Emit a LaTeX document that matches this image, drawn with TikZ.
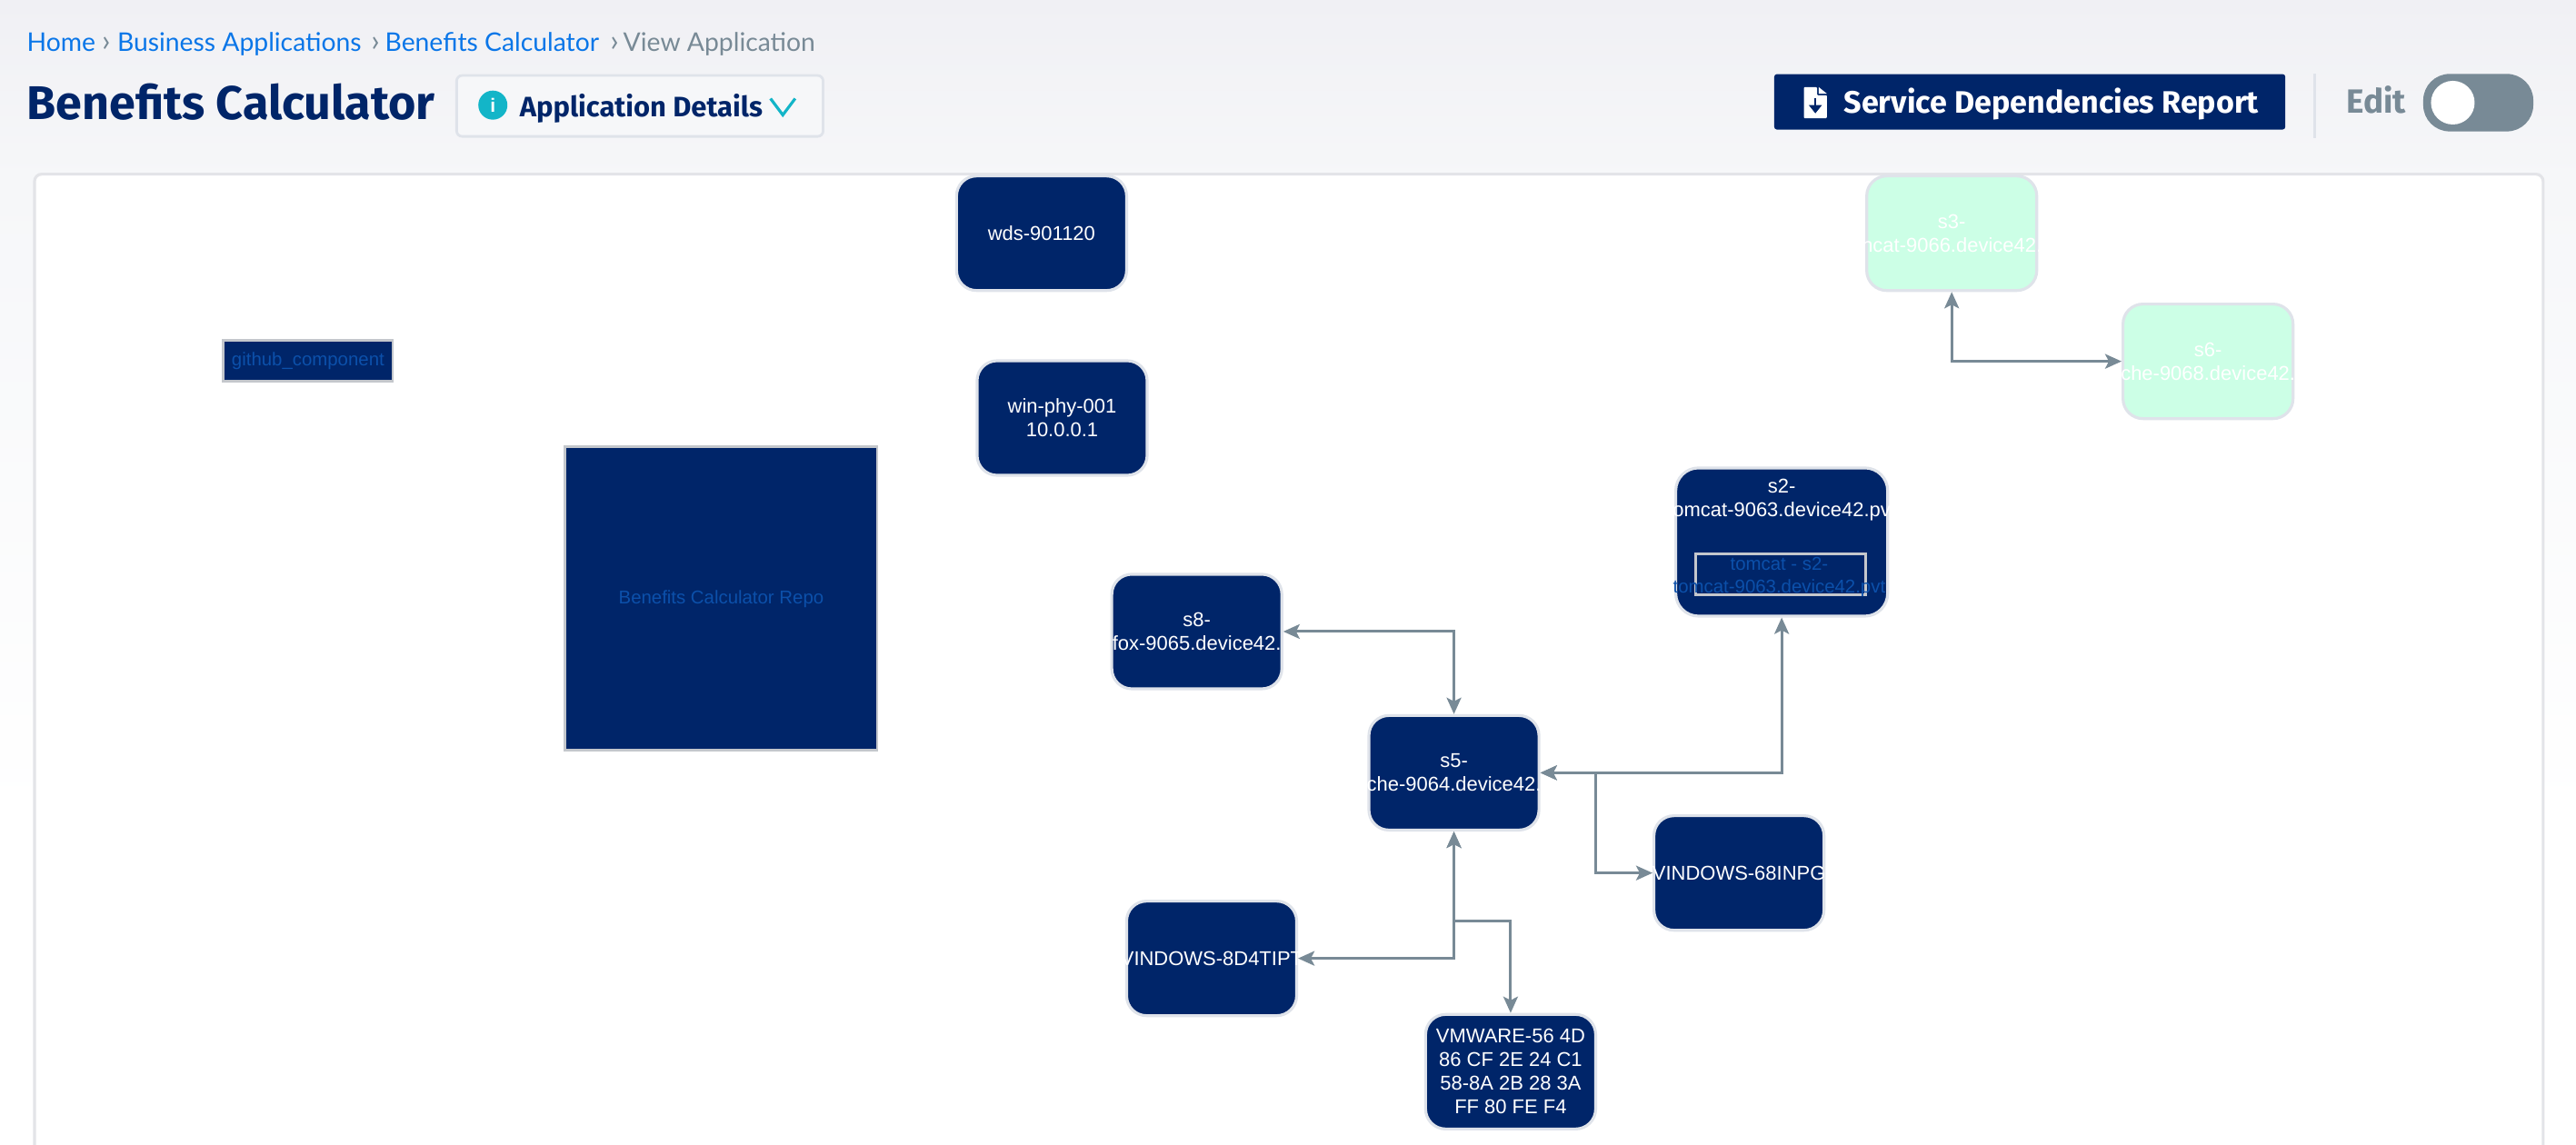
\documentclass[tikz,border=0pt]{standalone}
\usepackage{fontspec}
\setmainfont{Liberation Sans}
\newfontfamily\crumbfont{Lato}
\newfontfamily\headfont{Fira Sans}
\usetikzlibrary{positioning,calc,arrows.meta}
\definecolor{colorNavy}{HTML}{002569}
\definecolor{colorEdge}{HTML}{DFE3EA}
\definecolor{colorBox}{HTML}{C4C7CC}
\definecolor{colorPanel}{HTML}{E3E4E8}
\definecolor{colorLink}{HTML}{0A76E8}
\definecolor{colorSlate}{HTML}{788A96}
\definecolor{colorMint}{HTML}{CCFFE6}
\definecolor{colorDim}{HTML}{0C50AA}
\definecolor{colorTeal}{HTML}{13B5C8}
\definecolor{colorTopA}{HTML}{F0F0F4}
\definecolor{colorTopB}{HTML}{F6F7F9}
\tikzset{
   every path/.style={>={Stealth[length=1.8mm,width=1.6mm,inset=0.4mm]}},
   svc/.style={rectangle,rounded corners=2.2mm,draw=colorEdge,line width=0.9pt,fill=colorNavy,text=white,align=center,
      minimum width=1.87cm,minimum height=1.26cm,inner sep=0pt,font=\fontsize{6.25}{7.4}\selectfont},
   svcoff/.style={svc,fill=colorMint},
   comp/.style={rectangle,draw=colorBox,line width=0.8pt,fill=colorNavy,text=colorDim,align=center,
      inner sep=0pt,font=\fontsize{5.8}{7.2}\selectfont},
   conn/.style={<->,color=colorSlate,line width=0.85pt},
   crumb/.style={font=\crumbfont\fontsize{8.05}{9}\selectfont,text=colorLink,anchor=base west,inner sep=0pt},
   sepmark/.style={crumb,text=colorSlate,font=\crumbfont\fontsize{9.5}{9}\selectfont},
   heading/.style={anchor=base west,inner sep=0pt,font=\headfont\bfseries\fontsize{#1}{#1}\selectfont},
}
\begin{document}
\begin{tikzpicture}[x=0.018074cm,y=-0.018074cm]

      \useasboundingbox (0,0) rectangle (1568,697.1);
      \shade[top color=colorTopA,bottom color=colorTopB] (0,0) rectangle (1568,110);
      \shade[top color=colorTopB,bottom color=white] (0,110) rectangle (1568,500);
      \fill[white] (0,500) rectangle (1568,697.1);
      \draw[colorPanel,line width=0.9pt,fill=white,rounded corners=0.8mm] (21,760) -- (21,106) -- (1548,106) -- (1548,760);

      % header
      \node (home) [crumb] at (16,31.5) {Home};
      \node (sepa) [sepmark] at (61.6,31.5) {›};
      \node (apps) [crumb] at (71,31.5) {Business Applications};
      \node (sepb) [sepmark] at (225.5,31.5) {›};
      \node (calc) [crumb] at (234,31.5) {Benefits Calculator};
      \node (sepc) [sepmark] at (371,31.5) {›};
      \node (view) [crumb,text=colorSlate] at (379,31.5) {View Application};
      \node (title) [heading=14.8,text=colorNavy] at (16,72.5) {Benefits Calculator};

      \node (details) [draw=colorEdge,fill=colorTopB,line width=0.8pt,rounded corners=0.6mm,minimum width=4.03cm,minimum height=0.67cm] at (389.5,64.5) {};
      \node (infoicon) [circle,fill=colorTeal,minimum size=0.32cm,inner sep=0pt,text=white,font=\bfseries\fontsize{6}{6}\selectfont] at (300,64) {i};
      \node (detailstext) [heading=8.8,text=colorNavy] at (316,71) {Application Details};
      \draw[colorTeal,line width=0.9pt] (469,60) -- (476.5,70) -- (484,60);

      \node (report) [fill=colorNavy,rounded corners=0.3mm,minimum width=5.62cm,minimum height=0.61cm] at (1235.5,62) {};
      \node (reporttext) [heading=9.7,text=white] at (1122,69) {Service Dependencies Report};
      \fill[white,rounded corners=0.1mm] (1098,53) -- (1106,53) -- (1106,58) -- (1112,58) -- (1112,72) -- (1098,72) -- cycle;
      \fill[white] (1107,53) -- (1112,57) -- (1107,57) -- cycle;
      \draw[colorNavy,line width=0.6pt] (1105,60) -- (1105,66);
      \fill[colorNavy] (1101,64) -- (1109,64) -- (1105,69) -- cycle;

      \draw[colorEdge,line width=1pt] (1409,45) -- (1409,84);
      \node (edit) [heading=10.5,text=colorSlate] at (1428,69) {Edit};
      \fill[colorSlate,rounded corners=2.9mm] (1475,45) rectangle (1542,80);
      \fill[white] (1493,62.5) circle (0.24cm);

      % services
      \node (wds) [svc] at (634,142) {wds-901120};
      \node (winphy) [svc] at (646.5,254.5) {win-phy-001\\10.0.0.1};
      \node (github) [comp,minimum width=1.86cm,minimum height=0.45cm] at (187.5,219.5) {github\_component};
      \node (repo) [comp,minimum width=3.43cm,minimum height=3.34cm] at (439,364.5) {Benefits Calculator Repo};

      \node (sthree) [svcoff] at (1188,142) {s3-\\\makebox[0pt]{ncat-9066.device42.}};
      \node (ssix) [svcoff] at (1344,220) {s6-\\\makebox[0pt]{che-9068.device42.}};

      \node (stwo) [svc,minimum width=2.33cm,minimum height=1.63cm,rounded corners=2.5mm] at (1084.5,330) {};
      \node (stwotext) [inner sep=0pt,align=center,text=white,font=\fontsize{6.25}{7.4}\selectfont] at (1084.5,304.5) {s2-\\omcat-9063.device42.pv};
      \node (tomcat) [comp,fill=none,minimum width=1.87cm,minimum height=0.45cm] at (1084,349.5) {};
      \node (tomcattext) [inner sep=0pt,align=center,text=colorDim,font=\fontsize{5.8}{7.2}\selectfont] at (1083,351.5) {tomcat - s2-\\tomcat-9063.device42.pvt};

      \node (seight) [svc] at (728.5,384.5) {s8-\\\makebox[0pt]{fox-9065.device42.}};
      \node (sfive) [svc] at (885,470.5) {s5-\\\makebox[0pt]{che-9064.device42.}};
      \node (winsix) [svc] at (1058.5,531.5) {\makebox[0pt]{VINDOWS-68INPG}};
      \node (wineight) [svc] at (737.5,583.5) {\makebox[0pt]{VINDOWS-8D4TIPT}};
      \node (vmware) [svc] at (919.5,652.5) {VMWARE-56 4D\\86 CF 2E 24 C1\\58-8A 2B 28 3A\\FF 80 FE F4};

      \coordinate (tapsix) at (971,470.5);
      \coordinate (tapvm) at (885,561);

      \draw[conn] (sthree) |- (ssix);
      \draw[conn] (seight) -| (sfive);
      \draw[conn] (sfive) -| (stwo);
      \draw[conn] (sfive) -- (tapsix) |- (winsix);
      \draw[conn] (sfive) |- (wineight);
      \draw[conn] (sfive) -- (tapvm) -| (vmware);
    \end{tikzpicture}
\end{document}
